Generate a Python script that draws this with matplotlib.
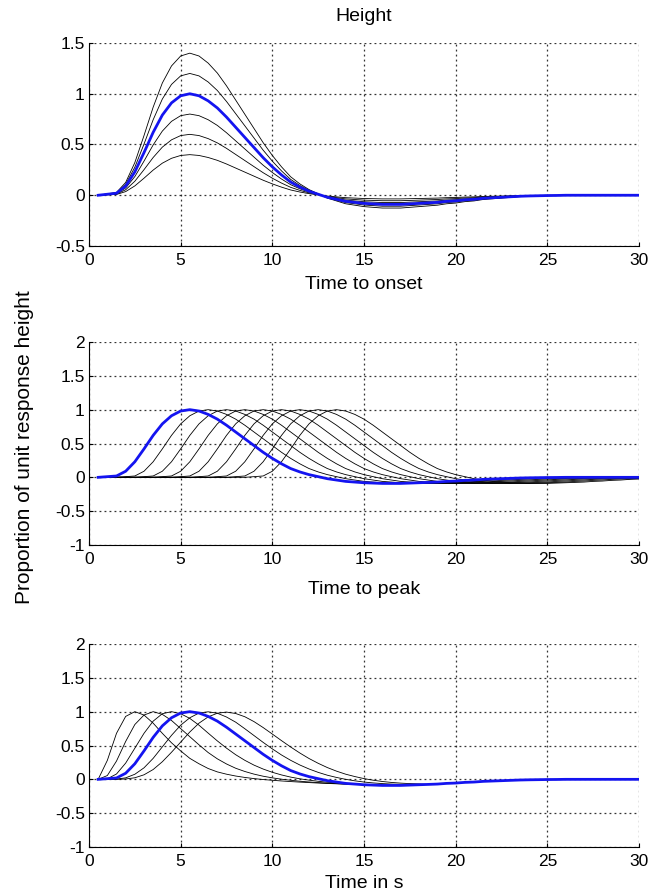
import numpy as np
import matplotlib.pyplot as plt

plt.rcParams['font.family'] = ['Liberation Sans', 'DejaVu Sans']

# sampling grid of the curves (s)
t = np.arange(0.5, 30.01, 0.5)

# canonical response (blue), every 0.5 s
base = [0.0, 0.01, 0.02, 0.09, 0.23, 0.42, 0.62, 0.79, 0.91, 0.98,
        1.0, 0.98, 0.93, 0.86, 0.77, 0.67, 0.57, 0.47, 0.37, 0.28,
        0.20, 0.13, 0.08, 0.04, 0.01, -0.02, -0.04, -0.06, -0.07, -0.08,
        -0.085, -0.09, -0.09, -0.09, -0.085, -0.08, -0.075, -0.07, -0.06, -0.055,
        -0.045, -0.04, -0.03, -0.025, -0.02, -0.015, -0.01, -0.007, -0.005, -0.003,
        -0.002, 0.0, 0.0, 0.0, 0.0, 0.0, 0.0, 0.0, 0.0, 0.0]

# panel 1: scaled heights
heights = [0.4, 0.6, 0.8, 1.2, 1.4]

# panel 2: onset delays (s)
onset_shifts = [1, 2, 3, 4, 5, 6, 7, 8]

# panel 3: curves with other times to peak (0.5 .. 18 s), tail joins the canonical one
peak_early1 = [0.0, 0.28, 0.68, 0.93, 1.0, 0.95, 0.83, 0.68, 0.54, 0.42,
               0.31, 0.23, 0.16, 0.11, 0.076, 0.049, 0.028, 0.011, -0.003, -0.014,
               -0.024, -0.033, -0.041, -0.048, -0.055, -0.061, -0.066, -0.071, -0.075, -0.08,
               -0.085, -0.09, -0.09, -0.09, -0.085, -0.08]
peak_early2 = [0.0, 0.056, 0.27, 0.56, 0.81, 0.95, 1.0, 0.96, 0.87, 0.75,
               0.63, 0.51, 0.396, 0.303, 0.227, 0.164, 0.116, 0.077, 0.046, 0.022,
               0.002, -0.014, -0.028, -0.039, -0.048, -0.057, -0.063, -0.07, -0.074, -0.08,
               -0.085, -0.09, -0.09, -0.09, -0.085, -0.08]
peak_early3 = [0.0, 0.008, 0.079, 0.24, 0.46, 0.68, 0.86, 0.97, 1.0, 0.97,
               0.90, 0.80, 0.683, 0.568, 0.461, 0.364, 0.281, 0.21, 0.152, 0.104,
               0.065, 0.033, 0.008, -0.012, -0.029, -0.043, -0.053, -0.062, -0.069, -0.075,
               -0.08, -0.085, -0.088, -0.088, -0.085, -0.08]
peak_late1 = [0.0, 0.0, 0.003, 0.022, 0.075, 0.17, 0.31, 0.48, 0.65, 0.80,
              0.91, 0.98, 0.998, 0.977, 0.921, 0.845, 0.748, 0.647, 0.546, 0.45,
              0.36, 0.281, 0.212, 0.153, 0.103, 0.061, 0.028, 0.0, -0.022, -0.04,
              -0.053, -0.063, -0.07, -0.074, -0.077, -0.077]
peak_late2 = [0.0, 0.0, 0.0005, 0.005, 0.023, 0.067, 0.145, 0.26, 0.40, 0.55,
              0.70, 0.83, 0.923, 0.977, 0.994, 0.973, 0.925, 0.853, 0.765, 0.669,
              0.572, 0.478, 0.389, 0.308, 0.237, 0.174, 0.121, 0.076, 0.041, 0.011,
              -0.013, -0.032, -0.046, -0.056, -0.063, -0.067]
peak_curves = [peak_early1, peak_early2, peak_early3, peak_late1, peak_late2]

base = np.array(base)

W, H = 664, 894
fig = plt.figure(figsize=(W / 100, H / 100), dpi=100)
left, width, height = 89 / W, 550 / W, 203 / H
ax1 = fig.add_axes([left, 1 - 246 / H, width, height])
ax2 = fig.add_axes([left, 1 - 545 / H, width, height])
ax3 = fig.add_axes([left, 1 - 847 / H, width, height])

# Height
for h in heights:
    ax1.plot(t, h * base, color='black', lw=0.6)
ax1.plot(t, base, color='#1414f0', lw=2.0)

# Time to onset
for s in onset_shifts:
    n = int(2 * s)
    y = np.concatenate([np.zeros(n), base[:-n]])
    ax2.plot(t, y, color='black', lw=0.6)
ax2.plot(t, base, color='#1414f0', lw=2.0)

# Time to peak
for c in peak_curves:
    y = np.concatenate([c, base[len(c):]])
    ax3.plot(t, y, color='black', lw=0.6)
ax3.plot(t, base, color='#1414f0', lw=2.0)

for ax, lo, hi in [(ax1, -0.5, 1.5), (ax2, -1, 2), (ax3, -1, 2)]:
    ax.set_xlim(0, 30)
    ax.set_ylim(lo, hi)
    ax.set_xticks(np.arange(0, 31, 5))
    ax.set_yticks(np.arange(lo, hi + 0.01, 0.5))
    ax.set_yticklabels(['%g' % v for v in np.arange(lo, hi + 0.01, 0.5)])
    ax.grid(True, color='black', linestyle=(0, (1.5, 2.5)), linewidth=0.9, alpha=0.8)
    ax.spines['top'].set_visible(False)
    ax.spines['right'].set_visible(False)
    ax.tick_params(direction='in', length=3, labelsize=12.5)
    ax.tick_params(axis='x', pad=5)
    ax.tick_params(axis='y', pad=3)

ax1.set_title('Height', fontsize=14, pad=16)
ax1.set_xlabel('Time to onset', fontsize=14, labelpad=6)
ax2.set_xlabel('Time to peak', fontsize=14, labelpad=10)
ax3.set_xlabel('Time in s', fontsize=14, labelpad=4)
fig.text(25 / W, 1 - 447 / H, 'Proportion of unit response height', rotation=90,
         fontsize=15, ha='center', va='center')

fig.savefig('out.png', dpi=100)
